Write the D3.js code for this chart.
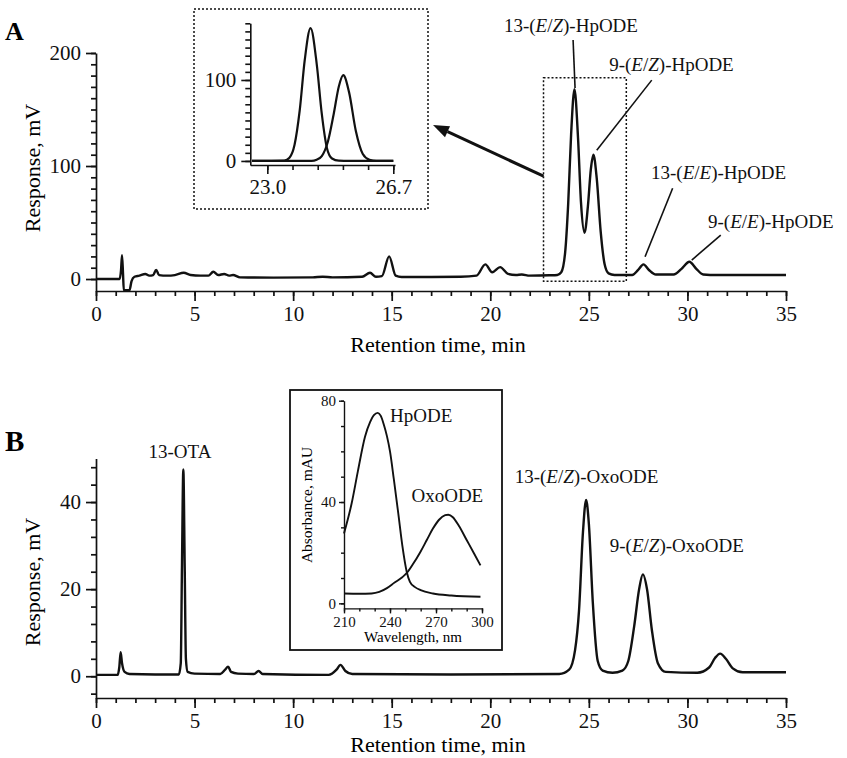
<!DOCTYPE html>
<html>
<head>
<meta charset="utf-8">
<script src="https://cdn.jsdelivr.net/npm/d3@7"></script>
<style>
  body { margin: 0; background: #fff; }
  svg { display: block; }
</style>
</head>
<body>
<div id="chart"></div>
<script>
// ---- data ----
// panel A chromatogram: [retention time (min), response (mV)]
var traceA = [
  [0, 0], [1.2, 0], [1.27, 8], [1.32, 21], [1.37, 5], [1.41, -10], [1.7, -10], [1.8, -2],
  [1.95, 2], [2.2, 3], [2.5, 4.5], [2.7, 3], [2.9, 3.5], [3.05, 8], [3.2, 3.5], [3.6, 3],
  [4.0, 3.5], [4.45, 5.5], [4.8, 3.5], [5.3, 3], [5.7, 3], [5.95, 6.5], [6.2, 3.5], [6.5, 4.5],
  [6.75, 3], [6.95, 3.5], [7.3, 1.5], [9, 1.2], [11, 1.5], [11.5, 2], [12, 1.5], [13.5, 2],
  [13.9, 5.5], [14.2, 2], [14.5, 2.5], [14.87, 20], [15.2, 3], [15.5, 1.8], [17, 1.8],
  [18.5, 2], [19.3, 3], [19.75, 13], [20.1, 6], [20.5, 10.5], [20.9, 4.5], [21.3, 3.5],
  [21.6, 4], [22, 3], [23, 3.3], [23.4, 3.6], [23.6, 6], [23.8, 24], [23.95, 66], [24.1, 128],
  [24.27, 168], [24.45, 125], [24.6, 68], [24.78, 41], [24.95, 64], [25.1, 97], [25.23, 110],
  [25.4, 89], [25.6, 42], [25.8, 13], [26.0, 5], [26.3, 3.6], [27.2, 3.5], [27.5, 8],
  [27.77, 13], [28.05, 8], [28.4, 4], [29.3, 4], [29.7, 9], [30.1, 15.3], [30.45, 9],
  [30.8, 4], [31.5, 3.5], [35, 3.5]
];
// panel A inset: the two resolved E/Z peaks
var insetPeak13 = [
  [22.55, 0], [23.5, 0.5], [23.65, 4], [23.8, 20], [23.95, 62], [24.1, 125], [24.27, 164],
  [24.45, 120], [24.6, 58], [24.75, 16], [24.9, 3], [25.1, 0.3], [25.4, 0], [26.7, 0]
];
var insetPeak9 = [
  [22.55, 0], [24.3, 0], [24.45, 1.5], [24.6, 6], [24.78, 24], [24.95, 58], [25.1, 92],
  [25.23, 106], [25.4, 85], [25.6, 37], [25.8, 9], [26.0, 1.5], [26.2, 0], [26.7, 0]
];
// panel B chromatogram
var traceB = [
  [0, 0.3], [1.1, 0.3], [1.18, 2], [1.25, 5.5], [1.32, 3], [1.45, 1], [1.7, 0.5], [3, 0.4],
  [4.2, 0.4], [4.3, 3], [4.36, 25], [4.43, 47.5], [4.5, 25], [4.56, 4], [4.65, 1], [5, 0.6],
  [6.3, 0.5], [6.55, 1.5], [6.7, 2.2], [6.85, 1], [7.2, 0.6], [8.0, 0.5], [8.25, 1.2],
  [8.45, 0.5], [11.8, 0.3], [12.2, 1.5], [12.4, 2.6], [12.65, 1.2], [13, 0.5], [18, 0.4],
  [23.5, 0.5], [24.0, 1.5], [24.3, 6], [24.5, 15], [24.7, 33], [24.86, 40.5], [25.0, 35],
  [25.2, 17], [25.45, 3.5], [25.7, 1.3], [26.2, 0.8], [26.7, 1.3], [27.0, 3.5], [27.3, 11.5],
  [27.55, 20], [27.74, 23.4], [27.95, 20], [28.2, 10.5], [28.5, 3], [28.9, 1], [30.5, 0.8],
  [31.1, 2], [31.4, 4.2], [31.66, 5.2], [31.95, 4], [32.3, 1.8], [32.8, 0.9], [35, 0.9]
];
// panel B inset: UV spectra [wavelength (nm), absorbance (mAU)]
var spectrumHpODE = [
  [210, 27.6], [215, 39.5], [219, 52], [223.7, 65.8], [227, 71.5], [229.5, 74.3], [232, 75.2],
  [234, 74], [236, 70.5], [238, 66], [240, 60], [242.5, 49], [245.4, 35.5], [248, 23],
  [250.9, 12.5], [253, 8.5], [256.3, 6.4], [260, 5.2], [268, 3.9], [280, 3.1], [299, 2.6]
];
var spectrumOxoODE = [
  [210, 3.9], [220, 3.8], [228, 3.9], [233, 4.5], [238, 6], [243, 8.2], [248, 10.3],
  [251, 12], [255, 15.5], [260, 20.5], [264, 25], [268, 29.5], [272, 33], [276, 34.8],
  [278, 35], [281, 34], [285, 30.5], [290, 25], [295, 19.5], [299, 15]
];

var timeMajor = [0, 5, 10, 15, 20, 25, 30, 35];
var timeMinor = d3.range(0, 36, 1);
var yMajorA = [0, 100, 200];
var yMinorA = d3.range(0, 201, 10);
var yMajorB = [0, 20, 40];
var yMinorB = d3.range(-4, 49, 4);
var insetAXTicks = [23.0, 23.74, 24.48, 25.22, 25.96, 26.7];
var insetAXLabels = [23.0, 26.7];
var insetAYMajor = [0, 100];
var insetAYMinor = d3.range(0, 171, 10);
var insetBXMajor = [210, 240, 270, 300];
var insetBXMinor = d3.range(210, 301, 10);
var insetBYMajor = [0, 40, 80];
var insetBYMinor = d3.range(0, 81, 10);

// zoom window marked on panel A (time range, mV range)
var zoomWindow = { t0: 22.7, t1: 26.9, v0: -2, v1: 178 };

// peak annotations: label position and leader line, in data units
var labelsA = [
  { text: "13-(E/Z)-HpODE", t: 24.09, v: 218.6, line: [24.2, 211.5, 24.3, 169] },
  { text: "9-(E/Z)-HpODE", t: 29.19, v: 184, line: [28.19, 176, 25.4, 114] },
  { text: "13-(E/E)-HpODE", t: 31.58, v: 88.5, line: [29.25, 80.3, 27.85, 19.7] },
  { text: "9-(E/E)-HpODE", t: 34.23, v: 45.1, line: [31.69, 38.9, 30.22, 16.8] }
];
var labelsB = [
  { text: "13-OTA", t: 4.26, v: 50.1 },
  { text: "13-(E/Z)-OxoODE", t: 24.88, v: 44.4 },
  { text: "9-(E/Z)-OxoODE", t: 29.46, v: 28.5 }
];
var spectrumLabels = [
  { text: "HpODE", w: 240, v: 71.5 },
  { text: "OxoODE", w: 254, v: 40 }
];

// ---- drawing ----
var width = 847, height = 758;
var serif = '"Liberation Serif", "Times New Roman", Times, serif';

var svg = d3.select("#chart").append("svg")
    .attr("width", width)
    .attr("height", height)
    .style("font-family", serif);

var xA = d3.scaleLinear().domain([0, 35]).range([96, 786]);
var yA = d3.scaleLinear().domain([-10.6, 200]).range([291, 53]);
var xB = d3.scaleLinear().domain([0, 35]).range([96, 786]);
var yB = d3.scaleLinear().domain([-5, 50]).range([698, 458.5]);

var xIA = d3.scaleLinear().domain([22.5, 26.75]).range([250.3, 395]);
var yIA = d3.scaleLinear().domain([-5, 170]).range([165, 23.3]);
var xIB = d3.scaleLinear().domain([210, 300]).range([344, 482]);
var yIB = d3.scaleLinear().domain([-2, 80]).range([608.4, 400.7]);

function styleAxis(g, fontSize, width) {
    g.selectAll("path, line").attr("stroke", "#111").attr("stroke-width", width);
    g.selectAll("text")
        .attr("fill", "#111")
        .style("font-family", serif)
        .style("font-size", fontSize + "px");
}

function drawAxes(x, y, o) {
    var yBase = y(y.domain()[0]);
    var xBase = x(x.domain()[0]);

    var minorX = svg.append("g")
        .attr("transform", `translate(0,${yBase})`)
        .call(d3.axisBottom(x).tickValues(o.xMinor).tickFormat("").tickSize(o.minorLen).tickSizeOuter(0));
    minorX.select(".domain").remove();
    styleAxis(minorX, o.font, o.stroke);

    var majorX = svg.append("g")
        .attr("transform", `translate(0,${yBase})`)
        .call(d3.axisBottom(x).tickValues(o.xMajor).tickFormat(o.xFormat)
            .tickSize(o.majorLen).tickSizeOuter(0).tickPadding(o.pad));
    styleAxis(majorX, o.font, o.stroke);

    var minorY = svg.append("g")
        .attr("transform", `translate(${xBase},0)`)
        .call(d3.axisLeft(y).tickValues(o.yMinor).tickFormat("").tickSize(o.minorLen).tickSizeOuter(0));
    minorY.select(".domain").remove();
    styleAxis(minorY, o.font, o.stroke);

    var majorY = svg.append("g")
        .attr("transform", `translate(${xBase},0)`)
        .call(d3.axisLeft(y).tickValues(o.yMajor).tickFormat(d3.format("d"))
            .tickSize(o.majorLen).tickSizeOuter(0).tickPadding(o.pad));
    styleAxis(majorY, o.font, o.stroke);
}

function drawTrace(data, x, y, w) {
    var line = d3.line()
        .x(d => x(d[0]))
        .y(d => y(d[1]))
        .curve(d3.curveMonotoneX);
    svg.append("path")
        .datum(data)
        .attr("fill", "none")
        .attr("stroke", "#111")
        .attr("stroke-width", w)
        .attr("stroke-linejoin", "round")
        .attr("d", line);
}

// italicise the isomer letters inside the parentheses
function richText(sel, label) {
    label.split(/(\([^)]*\))/).forEach(function(p) {
        if (p.charAt(0) === "(") {
            p.split("").forEach(function(ch) {
                sel.append("tspan").text(ch)
                    .style("font-style", /[A-Z]/.test(ch) ? "italic" : "normal");
            });
        } else if (p) {
            sel.append("tspan").text(p);
        }
    });
}

function addLabel(x, y, size, anchor, label) {
    var t = svg.append("text")
        .attr("x", x)
        .attr("y", y)
        .attr("text-anchor", anchor)
        .attr("fill", "#111")
        .style("font-size", size + "px");
    richText(t, label);
    return t;
}

var timeFmt = d3.format("d");

// Panel A
drawAxes(xA, yA, {
    xMajor: timeMajor, xMinor: timeMinor, xFormat: timeFmt,
    yMajor: yMajorA, yMinor: yMinorA,
    majorLen: 10, minorLen: 5, pad: 5, font: 21, stroke: 1.7
});
drawTrace(traceA, xA, yA, 2.4);

svg.append("rect")
    .attr("x", xA(zoomWindow.t0))
    .attr("y", yA(zoomWindow.v1))
    .attr("width", xA(zoomWindow.t1) - xA(zoomWindow.t0))
    .attr("height", yA(zoomWindow.v0) - yA(zoomWindow.v1))
    .attr("fill", "none")
    .attr("stroke", "#111")
    .attr("stroke-width", 1.5)
    .attr("stroke-dasharray", "2,2");

labelsA.forEach(function(d) {
    addLabel(xA(d.t), yA(d.v), 19, "middle", d.text);
    svg.append("line")
        .attr("x1", xA(d.line[0])).attr("y1", yA(d.line[1]))
        .attr("x2", xA(d.line[2])).attr("y2", yA(d.line[3]))
        .attr("stroke", "#111").attr("stroke-width", 1.6);
});

svg.append("text")
    .attr("x", 438).attr("y", 352)
    .attr("text-anchor", "middle")
    .style("font-size", "22px")
    .text("Retention time, min");
svg.append("text")
    .attr("transform", "translate(40,168) rotate(-90)")
    .attr("text-anchor", "middle")
    .style("font-size", "22px")
    .text("Response, mV");
svg.append("text")
    .attr("x", 5).attr("y", 40)
    .style("font-size", "26px").style("font-weight", "bold")
    .text("A");

// Panel A inset (dotted frame)
var insetA = { x0: 194, y0: 9, x1: 428, y1: 209 };
svg.append("rect")
    .attr("x", insetA.x0).attr("y", insetA.y0)
    .attr("width", insetA.x1 - insetA.x0).attr("height", insetA.y1 - insetA.y0)
    .attr("fill", "#fff")
    .attr("stroke", "#111").attr("stroke-width", 1.5)
    .attr("stroke-dasharray", "2,2");

drawAxes(xIA, yIA, {
    xMajor: insetAXLabels, xMinor: insetAXTicks, xFormat: d3.format(".1f"),
    yMajor: insetAYMajor, yMinor: insetAYMinor,
    majorLen: 9, minorLen: 5, pad: 5, font: 21, stroke: 1.6
});
drawTrace(insetPeak13, xIA, yIA, 2.2);
drawTrace(insetPeak9, xIA, yIA, 2.2);

// arrow from zoom window to inset
var tail = [xA(zoomWindow.t0), yA(91)];
var head = [insetA.x1 + 5, 125];
var ang = Math.atan2(head[1] - tail[1], head[0] - tail[0]);
var hl = 16, hw = 6;
var back = [head[0] - hl * Math.cos(ang), head[1] - hl * Math.sin(ang)];
svg.append("line")
    .attr("x1", tail[0]).attr("y1", tail[1])
    .attr("x2", back[0]).attr("y2", back[1])
    .attr("stroke", "#111").attr("stroke-width", 3);
svg.append("polygon")
    .attr("points", [
        head,
        [back[0] + hw * Math.sin(ang), back[1] - hw * Math.cos(ang)],
        [back[0] - hw * Math.sin(ang), back[1] + hw * Math.cos(ang)]
    ].map(p => p.join(",")).join(" "))
    .attr("fill", "#111");

// Panel B
drawAxes(xB, yB, {
    xMajor: timeMajor, xMinor: timeMinor, xFormat: timeFmt,
    yMajor: yMajorB, yMinor: yMinorB,
    majorLen: 10, minorLen: 5, pad: 5, font: 21, stroke: 1.7
});
drawTrace(traceB, xB, yB, 2.4);

labelsB.forEach(function(d) {
    addLabel(xB(d.t), yB(d.v), 19, "middle", d.text);
});

svg.append("text")
    .attr("x", 438).attr("y", 752)
    .attr("text-anchor", "middle")
    .style("font-size", "22px")
    .text("Retention time, min");
svg.append("text")
    .attr("transform", "translate(40,582) rotate(-90)")
    .attr("text-anchor", "middle")
    .style("font-size", "22px")
    .text("Response, mV");
svg.append("text")
    .attr("x", 5).attr("y", 451)
    .style("font-size", "29px").style("font-weight", "bold")
    .text("B");

// Panel B inset (solid frame)
var insetB = { x0: 290, y0: 390, x1: 502, y1: 650 };
svg.append("rect")
    .attr("x", insetB.x0).attr("y", insetB.y0)
    .attr("width", insetB.x1 - insetB.x0).attr("height", insetB.y1 - insetB.y0)
    .attr("fill", "#fff")
    .attr("stroke", "#111").attr("stroke-width", 1.8);

drawAxes(xIB, yIB, {
    xMajor: insetBXMajor, xMinor: insetBXMinor, xFormat: d3.format("d"),
    yMajor: insetBYMajor, yMinor: insetBYMinor,
    majorLen: 5, minorLen: 3, pad: 3, font: 15, stroke: 1.4
});
drawTrace(spectrumHpODE, xIB, yIB, 1.9);
drawTrace(spectrumOxoODE, xIB, yIB, 1.9);

spectrumLabels.forEach(function(d) {
    addLabel(xIB(d.w), yIB(d.v), 19, "start", d.text);
});

svg.append("text")
    .attr("x", 413).attr("y", 642)
    .attr("text-anchor", "middle")
    .style("font-size", "15px")
    .text("Wavelength, nm");
svg.append("text")
    .attr("transform", "translate(312,505) rotate(-90)")
    .attr("text-anchor", "middle")
    .style("font-size", "15.5px")
    .text("Absorbance, mAU");
</script>
</body>
</html>
